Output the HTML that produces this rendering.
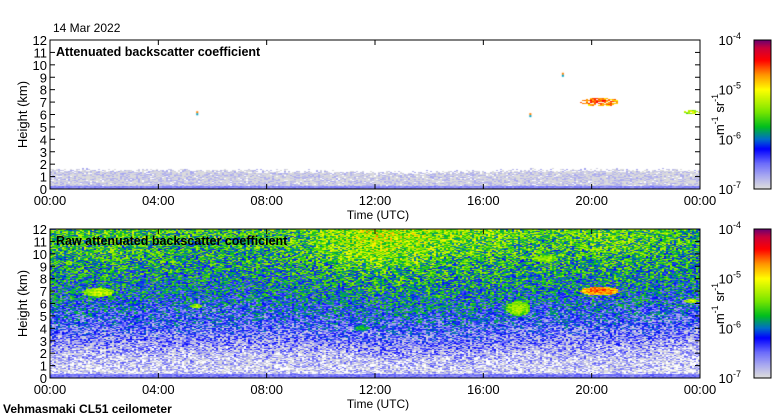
<!DOCTYPE html>
<html><head><meta charset="utf-8"><style>
body{margin:0;background:#fff;width:780px;height:420px;overflow:hidden;font-family:"Liberation Sans",sans-serif}
#wrap{position:relative;width:780px;height:420px}
canvas{position:absolute}
svg{position:absolute;left:0;top:0}
</style></head><body>
<div id="wrap">
<canvas id="c1" width="650" height="149" style="left:50px;top:40px"></canvas>
<canvas id="c2" width="650" height="149" style="left:50px;top:229px"></canvas>
<canvas id="cb1" width="17" height="149" style="left:754px;top:40px"></canvas>
<canvas id="cb2" width="17" height="149" style="left:754px;top:229px"></canvas>
<svg id="ax" width="780" height="420"></svg>
</div>
<script>
// ---- data ----
const timeKnots=[0,3,6,9,12,15,18,21,24];          // hours
const heightKnots=[0.5,1.5,2.5,3.5,4.5,5.5,6.5,7.5,8.5,9.5,10.5,11.5]; // km
// log10 backscatter, raw panel, rows = heightKnots, cols = timeKnots
const rawLog=[
[-7.05,-7.05,-7.05,-7.05,-7.0,-7.0,-7.05,-7.05,-7.05],
[-6.95,-6.95,-6.95,-6.95,-6.9,-6.9,-6.95,-6.95,-7.0],
[-6.75,-6.75,-6.75,-6.75,-6.65,-6.65,-6.75,-6.75,-6.85],
[-6.55,-6.55,-6.55,-6.55,-6.45,-6.45,-6.55,-6.55,-6.65],
[-6.35,-6.35,-6.35,-6.35,-6.25,-6.25,-6.35,-6.35,-6.45],
[-6.2,-6.2,-6.25,-6.2,-6.1,-6.1,-6.2,-6.2,-6.3],
[-6.05,-6.05,-6.1,-6.05,-5.95,-5.95,-6.05,-6.05,-6.1],
[-5.95,-5.95,-6.0,-5.95,-5.8,-5.85,-5.95,-5.9,-6.0],
[-5.85,-5.85,-5.9,-5.85,-5.65,-5.75,-5.85,-5.8,-5.9],
[-5.75,-5.75,-5.8,-5.75,-5.45,-5.65,-5.75,-5.7,-5.8],
[-5.65,-5.65,-5.75,-5.65,-5.3,-5.5,-5.65,-5.6,-5.75],
[-5.6,-5.6,-5.65,-5.6,-5.2,-5.4,-5.6,-5.55,-5.7]];
// boundary layer top in attenuated panel (km) at timeKnots
const blTop=[1.55,1.5,1.45,1.45,1.3,1.35,1.5,1.5,1.5];
// cloud features: time(h), height(km), half-width(h), half-height(km), log value
const cloudT=[20.3,1.8,17.3,5.4,23.7,18.3,11.5];
const cloudH=[7.0,6.9,5.6,5.8,6.2,9.6,4.0];
const cloudDT=[0.7,0.6,0.45,0.2,0.3,0.5,0.3];
const cloudDH=[0.35,0.35,0.6,0.2,0.15,0.3,0.25];
const cloudV=[-4.6,-5.2,-5.3,-5.3,-5.2,-5.3,-5.7];
const cloudInTop=[1,0,0,0,1,0,0];
const speckT=[5.4,17.7,18.9];
const speckH=[6.1,5.95,9.2];
const yTicks=[0,1,2,3,4,5,6,7,8,9,10,11,12];
const xTickLabels=["00:00","04:00","08:00","12:00","16:00","20:00","00:00"];
const cbLabels=["-4","-5","-6","-7"];

// ---- helpers ----
const X0=50,W=650,H=149,TOP=[40,229];
const xs=t=>t/24*W, ys=h=>H-h/12*H;
const stops=[[-7,[220,220,220]],[-6.75,[170,170,240]],[-6.5,[110,110,250]],[-6.2,[0,0,255]],[-6.0,[0,110,200]],[-5.75,[0,190,30]],[-5.45,[120,230,0]],[-5.0,[255,255,0]],[-4.7,[255,150,0]],[-4.4,[255,0,0]],[-4.15,[200,0,60]],[-4,[110,0,110]]];
function cmap(v){if(v<=stops[0][0])return stops[0][1];for(let i=1;i<stops.length;i++){if(v<=stops[i][0]){const a=stops[i-1],b=stops[i],f=(v-a[0])/(b[0]-a[0]);return a[1].map((c,k)=>Math.round(c+(b[1][k]-c)*f));}}return stops[stops.length-1][1];}
function hash(a,b){let h=(a*374761393+b*668265263)|0;h=(h^(h>>>13))*1274126177|0;return ((h^(h>>>16))>>>0)/4294967296;}
function interp(arr,t){let i=Math.min(timeKnots.length-2,Math.floor(t/3));const f=(t-timeKnots[i])/3;return arr[i]*(1-f)+arr[i+1]*f;}
function field(t,h){let r=Math.min(11,Math.max(0,h-0.5));const i=Math.min(10,Math.floor(r)),f=r-i;return interp(rawLog[i],t)*(1-f)+interp(rawLog[i+1],t)*f;}
function cloud(t,h,top){let v=null;for(let k=0;k<cloudT.length;k++){if(top&&!cloudInTop[k])continue;const dx=(t-cloudT[k])/cloudDT[k],dy=(h-cloudH[k])/cloudDH[k];const d=dx*dx+dy*dy;if(d<1){const c=cloudV[k]-0.25*d;v=v===null?c:Math.max(v,c);}}return v;}

function draw(id,top){
 const ctx=document.getElementById(id).getContext('2d');
 ctx.fillStyle='#fff';ctx.fillRect(0,0,W,H);
 for(let px=0;px<W;px+=2){for(let py=0;py<H;py+=1){
  const t=(px+1)/W*24,h=(H-py-0.5)/H*12;const n=hash(px,py)-0.5, n2=hash(py+999,px)-0.5;
  let v;
  if(top){
   const bt=interp(blTop,t)+0.35*n2;
   if(h<bt){v=-6.95+0.45*n;if(h<0.25)v=-6.6+0.2*n;}else v=null;
   const c=cloud(t,h,true);if(c!==null&&n>-0.3)v=c+0.6*n;
   if(v===null||v<-7.15){continue;}
  }else{
   v=field(t,h)+1.1*n;
   if(h<0.3)v=-6.55+0.3*n;
   const c=cloud(t,h,false);if(c!==null)v=Math.max(v,c+0.5*n);
   if(v<-7.2)continue;
  }
  const col=cmap(v);ctx.fillStyle=`rgb(${col[0]},${col[1]},${col[2]})`;ctx.fillRect(px,py,2,1);
 }}
 if(top){for(let k=0;k<speckT.length;k++){const x=xs(speckT[k]),y=ys(speckH[k]);ctx.fillStyle='#ff8000';ctx.fillRect(x,y-2,2,2);ctx.fillStyle='#00a0c0';ctx.fillRect(x,y,2,2);}}
}
draw('c1',true);draw('c2',false);
for(const id of ['cb1','cb2']){const ctx=document.getElementById(id).getContext('2d');for(let y=0;y<H;y++){const c=cmap(-4-3*y/(H-1));ctx.fillStyle=`rgb(${c})`;ctx.fillRect(0,y,17,1);}}

// ---- axes ----
const svg=document.getElementById('ax');const NS='http://www.w3.org/2000/svg';
function el(tag,at,txt,parent){const e=document.createElementNS(NS,tag);for(const k in at)e.setAttribute(k,at[k]);if(txt!==undefined)e.textContent=txt;(parent||svg).appendChild(e);return e;}
function txt(x,y,s,anchor,size,bold,name){const e=el('text',{x:x,y:y,'text-anchor':anchor,'font-size':size,'font-family':'Liberation Sans, sans-serif','font-weight':bold?'bold':'normal',fill:'#000'},s);

return e;}
TOP.forEach((T,pi)=>{
 const fr=el('rect',{x:X0,y:T,width:W,height:H,fill:'none',stroke:'#000','stroke-width':1});
 
 
 yTicks.forEach(v=>{const y=T+ys(v);el('line',{x1:X0,x2:X0+5,y1:y,y2:y,stroke:'#000'});el('line',{x1:X0+W-5,x2:X0+W,y1:y,y2:y,stroke:'#000'});
  txt(X0-3,y+5,String(v),'end',13,false,'y-tick-label');});
 xTickLabels.forEach((s,i)=>{const x=X0+xs(i*4);el('line',{x1:x,x2:x,y1:T+H,y2:T+H-5,stroke:'#000'});el('line',{x1:x,x2:x,y1:T,y2:T+5,stroke:'#000'});
  txt(x,T+H+16,s,'middle',13,false,'x-tick-label');});
 txt(378,T+H+30,'Time (UTC)','middle',12,false,'x-axis-title');
 const yl=txt(0,0,'Height (km)','middle',13,false,'y-axis-title');yl.setAttribute('transform',`translate(27,${T+H/2}) rotate(-90)`);
 txt(56,T+16,pi?'Raw attenuated backscatter coefficient':'Attenuated backscatter coefficient','start',12.5,true,'panel-title');
 const cf=el('rect',{x:754,y:T,width:17,height:H,fill:'none',stroke:'#000'});
 
 
 cbLabels.forEach((e,i)=>{const y=T+i*H/3;const t=txt(741,y+5,'10','end',13,false,'colorbar-tick-label');el('tspan',{dy:-6,'font-size':9},e,t);});
 const u=txt(0,0,'','middle',13,false,'colorbar-unit');u.setAttribute('transform',`translate(724,${T+H/2}) rotate(-90)`);
 u.innerHTML='m<tspan dy="-6" font-size="9">-1</tspan><tspan dy="6"> sr</tspan><tspan dy="-6" font-size="9">-1</tspan>';
});
txt(53,32,'14 Mar 2022','start',12,false,'date-label');
txt(3,413,'Vehmasmaki CL51 ceilometer','start',12,true,'instrument-label');
</script>
</body></html>
